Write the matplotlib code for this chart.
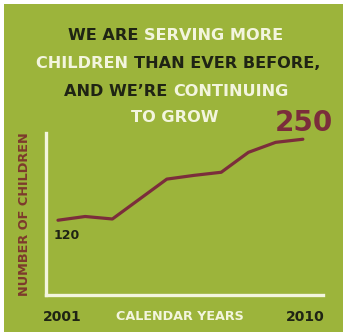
import matplotlib
matplotlib.use("Agg")
import matplotlib.pyplot as plt
from matplotlib.patches import Rectangle

years = [2001, 2002, 2003, 2004, 2005, 2006, 2007, 2008, 2009, 2010]
children = [120, 126, 122, 154, 186, 192, 197, 229, 245, 250]
title_lines = [
    [("WE ARE ", "dark"), ("SERVING MORE", "light")],
    [("CHILDREN ", "light"), ("THAN EVER BEFORE,", "dark")],
    [("AND WE\u2019RE ", "dark"), ("CONTINUING", "light")],
    [("TO GROW", "light")],
]
x_label = "CALENDAR YEARS"
y_label = "NUMBER OF CHILDREN"

W, H = 343, 332
GREEN = "#9cb43b"
DARK = "#1f2414"
LIGHT = "#f3f5de"
RED = "#7b2d3b"
FONT = "DejaVu Sans"

fig = plt.figure(figsize=(W / 100, H / 100), dpi=100, facecolor="white")
fig.patches.append(Rectangle((4 / W, 0), 1, 1 - 4 / H, transform=fig.transFigure,
                             facecolor=GREEN, edgecolor="none", zorder=-10))

def fx(px):
    return px / W

def fy(py):
    return 1 - py / H

ax = fig.add_axes([fx(46), fy(295), fx(323) - fx(46), fy(133) - fy(295)], zorder=2)
ax.set_facecolor("none")
ax.plot(years, children, color=RED, lw=2.3, solid_capstyle="round", solid_joinstyle="round")
ax.set_xlim(2000.56, 2010.74)
ax.set_ylim(0, 260)
for s in ["top", "right"]:
    ax.spines[s].set_visible(False)
for s in ["left", "bottom"]:
    ax.spines[s].set_color(LIGHT)
    ax.spines[s].set_linewidth(2.4)
ax.set_xticks([])
ax.set_yticks([])

# value labels
ax.annotate(str(children[0]), (years[0], children[0]), xytext=(6, -11), textcoords="offset points",
            ha="center", va="center", color=DARK, fontsize=9, fontweight="bold", family=FONT,
            annotation_clip=False)
ax.annotate(str(children[-1]), (years[-1], children[-1]), xytext=(1, 12), textcoords="offset points",
            ha="center", va="center", color=RED, fontsize=20, fontweight="bold", family=FONT,
            annotation_clip=False)

# bottom labels
fig.text(fx(62), fy(317), str(years[0]), ha="center", va="center", color=DARK,
         fontsize=10, fontweight="bold", family=FONT)
fig.text(fx(305), fy(317), str(years[-1]), ha="center", va="center", color=DARK,
         fontsize=10, fontweight="bold", family=FONT)
fig.text(fx(180), fy(317), x_label, ha="center", va="center", color=LIGHT,
         fontsize=9.2, fontweight="bold", family=FONT)
fig.text(fx(25), fy(214), y_label, ha="center", va="center", rotation=90, color="#7d3a2c",
         fontsize=9.3, fontweight="bold", family=FONT)

# multi-colour title
renderer = fig.canvas.get_renderer()
line_y = [35, 64, 91, 118]
centers = [176, 178, 176, 175]
for pieces, py, cx in zip(title_lines, line_y, centers):
    texts = []
    widths = []
    for txt, col in pieces:
        t = fig.text(0, fy(py), txt, ha="left", va="center",
                     color=DARK if col == "dark" else LIGHT,
                     fontsize=11.6, fontweight="bold", family=FONT)
        bb = t.get_window_extent(renderer)
        texts.append(t)
        widths.append(bb.width)
    total = sum(widths)
    x0 = cx - total / 2
    for t, w in zip(texts, widths):
        t.set_x(fx(x0))
        x0 += w

fig.savefig("out.png", dpi=100, facecolor="white")
